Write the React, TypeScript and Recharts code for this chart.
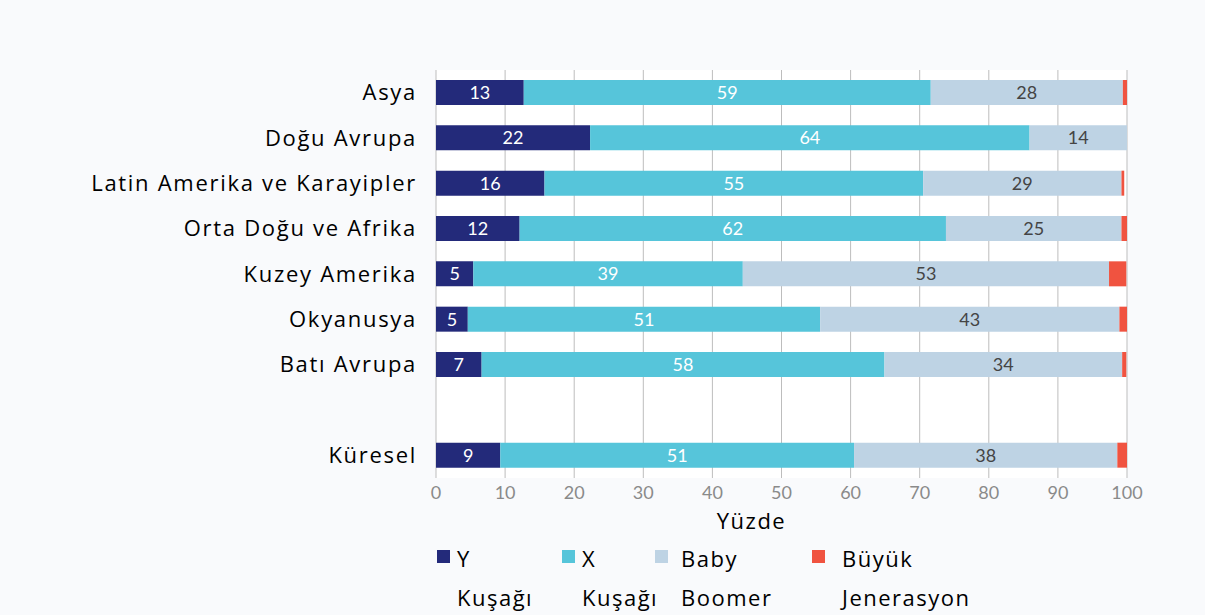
import React from 'react';
import { BarChart, Bar, XAxis, YAxis, CartesianGrid, Legend, LabelList } from 'recharts';

const regions = ['Asya', 'Doğu Avrupa', 'Latin Amerika ve Karayipler', 'Orta Doğu ve Afrika', 'Kuzey Amerika', 'Okyanusya', 'Batı Avrupa', '', 'Küresel'];
const genY = [12.7, 22.3, 15.7, 12.1, 5.4, 4.6, 6.6, null, 9.3];
const genX = [58.9, 63.6, 54.8, 61.7, 39.0, 51.0, 58.3, null, 51.2];
const boomers = [27.8, 14.1, 28.7, 25.4, 53.0, 43.3, 34.4, null, 38.1];
const silent = [0.6, 0, 0.4, 0.8, 2.5, 1.1, 0.6, null, 1.4];
const seriesNames = ['Y Kuşağı', 'X Kuşağı', 'Baby Boomer', 'Büyük Jenerasyon'];
const xTicks = [0, 10, 20, 30, 40, 50, 60, 70, 80, 90, 100];

const data = regions.map((name, i) => ({ name, y: genY[i], x: genX[i], b: boomers[i], s: silent[i] }));

const labelFont = 'Open Sans, sans-serif';
const numFont = 'Lato, sans-serif';

const fmt = (v: any) => (v == null ? '' : Math.round(v));

// legend positions (square x, text x)
const legendPos = [
    [437, 457],
    [562, 582],
    [655, 681],
    [812, 842],
];

const renderLegend = (props: any) => {
    const items = [...props.payload].sort((a: any, b: any) => seriesNames.indexOf(a.value) - seriesNames.indexOf(b.value));
    return (
        <div style={{ position: 'relative', width: 1205, height: 80, fontFamily: labelFont, fontSize: 22, letterSpacing: 1.5, color: '#000' }}>
            {items.map((p: any) => {
                const i = seriesNames.indexOf(p.value);
                const name: string = p.value;
                const sp = name.indexOf(' ');
                return (
                    <div key={name}>
                        <div style={{ position: 'absolute', left: legendPos[i][0], top: 15, width: 13, height: 13, background: p.color }} />
                        <div style={{ position: 'absolute', left: legendPos[i][1], top: 4, lineHeight: '39px', whiteSpace: 'nowrap' }}>
                            {name.slice(0, sp)}
                            <br />
                            {name.slice(sp + 1)}
                        </div>
                    </div>
                );
            })}
        </div>
    );
};

export default function App() {
    return (
        <div style={{ position: 'absolute', left: 0, top: 0, width: 1205, height: 615, background: '#f9fafc' }}>
            <BarChart
                width={1205}
                height={615}
                data={data}
                layout="vertical"
                margin={{ top: 70, right: 78, bottom: 107, left: 0 }}
                barSize={25}
            >
                <CartesianGrid horizontal={false} stroke="#bdbdbd" fill="#ffffff" />
                <XAxis
                    type="number"
                    domain={[0, 100]}
                    ticks={xTicks}
                    axisLine={false}
                    tickLine={false}
                    height={30}
                    tick={{ fill: '#8a8a8a', fontSize: 18, fontFamily: numFont }}
                    label={{ value: 'Yüzde', position: 'bottom', offset: 5, dx: -30, fill: '#000', fontSize: 22, fontFamily: labelFont, letterSpacing: 1.5 }}
                />
                <YAxis
                    type="category"
                    dataKey="name"
                    width={436}
                    axisLine={false}
                    tickLine={false}
                    tickSize={0}
                    tickMargin={19}
                    interval={0}
                    tick={{ fill: '#000', fontSize: 22, fontFamily: labelFont, letterSpacing: 1.7 }}
                />
                <Legend
                    content={renderLegend}
                    wrapperStyle={{ position: 'absolute', left: 0, top: 535, width: 1205, height: 0, overflow: 'visible' }}
                />
                <Bar dataKey="y" name={seriesNames[0]} stackId="a" fill="#232a7a" isAnimationActive={false}>
                    <LabelList dataKey="y" position="center" formatter={fmt} fill="#ffffff" fontSize={18} fontFamily={numFont} />
                </Bar>
                <Bar dataKey="x" name={seriesNames[1]} stackId="a" fill="#56c5da" isAnimationActive={false}>
                    <LabelList dataKey="x" position="center" formatter={fmt} fill="#ffffff" fontSize={18} fontFamily={numFont} />
                </Bar>
                <Bar dataKey="b" name={seriesNames[2]} stackId="a" fill="#bed3e4" isAnimationActive={false}>
                    <LabelList dataKey="b" position="center" formatter={fmt} fill="#444444" fontSize={18} fontFamily={numFont} />
                </Bar>
                <Bar dataKey="s" name={seriesNames[3]} stackId="a" fill="#f05340" isAnimationActive={false} />
            </BarChart>
        </div>
    );
}
